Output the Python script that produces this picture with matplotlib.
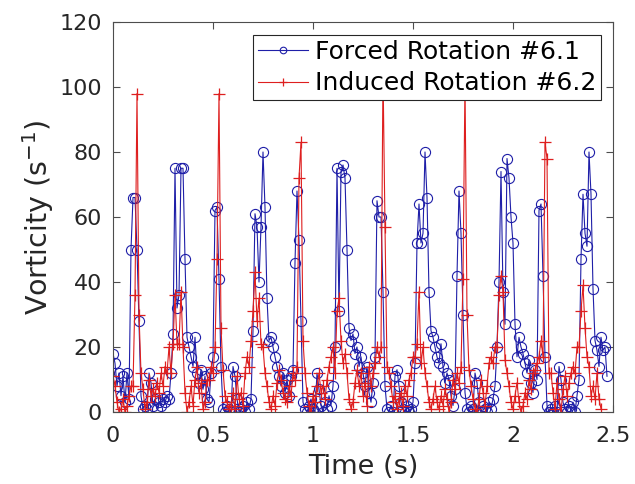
import numpy as np
import matplotlib
matplotlib.use("Agg")
import matplotlib.pyplot as plt

dt = 0.01  # sampling interval (s)

forced_61 = [
    18, 15, 8, 12, 5, 11, 3, 12, 4, 50,
    66, 66, 50, 28, 5, 1, 2, 1, 12, 9,
    2, 4, 1, 3, 2, 4, 3, 5, 4, 12,
    24, 75, 32, 36, 75, 75, 47, 23, 20, 17,
    14, 23, 12, 9, 13, 7, 11, 4, 3, 12,
    17, 62, 63, 41, 14, 1, 0, 2, 1, 0,
    14, 11, 4, 0, 1, 2, 0, 3, 1, 4,
    25, 61, 57, 40, 57, 80, 63, 35, 22, 23,
    20, 17, 14, 11, 8, 12, 6, 10, 5, 11,
    13, 46, 68, 53, 28, 3, 1, 0, 2, 4,
    1, 0, 12, 7, 2, 0, 3, 1, 5, 2,
    8, 20, 75, 31, 74, 76, 72, 50, 26, 22,
    24, 18, 20, 14, 17, 12, 8, 14, 6, 3,
    9, 17, 65, 60, 60, 37, 8, 1, 0, 2,
    0, 11, 13, 8, 3, 1, 0, 2, 0, 1,
    3, 15, 52, 64, 52, 55, 80, 66, 37, 25,
    23, 20, 17, 15, 21, 14, 9, 12, 10, 5,
    2, 7, 42, 68, 55, 30, 6, 1, 0, 2,
    1, 12, 9, 3, 0, 2, 1, 0, 3, 1,
    4, 8, 20, 40, 74, 37, 27, 78, 72, 60,
    52, 27, 17, 23, 20, 18, 15, 12, 16, 9,
    6, 13, 10, 62, 64, 42, 17, 2, 0, 1,
    0, 2, 0, 14, 10, 3, 1, 0, 2, 1,
    3, 0, 5, 10, 47, 67, 55, 51, 80, 67,
    38, 22, 19, 14, 23, 19, 20, 11,
]

induced_62 = [
    11, 8, 3, 0, 1, 4, 0, 2, 5, 8,
    8, 36, 98, 30, 12, 7, 1, 3, 10, 5,
    7, 5, 9, 6, 12, 8, 14, 12, 20, 12,
    21, 36, 21, 21, 37, 20, 6, 0, 3, 8,
    2, 10, 14, 6, 9, 1, 3, 10, 10, 14,
    12, 20, 47, 98, 26, 13, 5, 3, 1, 2,
    6, 1, 11, 4, 6, 2, 12, 17, 14, 22,
    31, 43, 28, 35, 21, 20, 12, 8, 3, 1,
    5, 2, 9, 13, 10, 6, 4, 3, 8, 5,
    12, 10, 14, 72, 83, 22, 12, 6, 2, 0,
    5, 3, 8, 12, 6, 8, 4, 10, 14, 17,
    20, 12, 31, 35, 22, 15, 18, 12, 4, 1,
    3, 9, 13, 8, 12, 5, 9, 2, 14, 8,
    12, 15, 20, 17, 20, 105, 57, 14, 12, 8,
    3, 5, 1, 4, 6, 2, 8, 5, 10, 12,
    17, 17, 21, 37, 15, 20, 12, 8, 3, 1,
    4, 8, 3, 1, 5, 2, 7, 4, 0, 3,
    10, 7, 12, 9, 14, 41, 102, 30, 13, 8,
    4, 1, 0, 4, 10, 6, 2, 8, 15, 17,
    15, 20, 20, 36, 42, 37, 16, 12, 8, 3,
    1, 5, 9, 3, 0, 2, 6, 4, 10, 7,
    12, 13, 15, 17, 22, 17, 83, 78, 12, 12,
    6, 1, 9, 4, 0, 7, 11, 5, 9, 12,
    14, 12, 20, 20, 31, 39, 26, 17, 14, 5,
    8, 4, 12, 4, 1,
]

labels = ["Forced Rotation #6.1", "Induced Rotation #6.2"]
x_ticks = [0, 0.5, 1, 1.5, 2, 2.5]
x_ticklabels = ["0", "0.5", "1", "1.5", "2", "2.5"]
y_ticks = [0, 20, 40, 60, 80, 100, 120]

t_forced = np.arange(len(forced_61)) * dt
t_induced = np.arange(len(induced_62)) * dt

plt.rcParams['font.family'] = ['DejaVu Sans']

fig = plt.figure(figsize=(6.35, 4.84), dpi=100)
ax = fig.add_axes([113/635, 72/484, 500/635, 390/484])

blue = '#1f1fa8'
red = '#de1f1f'

ax.plot(t_forced, forced_61, color=blue, lw=0.8, marker='o', markersize=7.3,
        markerfacecolor='none', markeredgecolor=blue, markeredgewidth=0.8,
        label=labels[0])
ax.plot(t_induced, induced_62, color=red, lw=0.8, marker='+', markersize=8.2,
        markeredgewidth=0.9, label=labels[1])

ax.set_xlim(0, 2.5)
ax.set_ylim(0, 120)
ax.set_xticks(x_ticks)
ax.set_xticklabels(x_ticklabels)
ax.set_yticks(y_ticks)

grey = '#262626'
for s in ax.spines.values():
    s.set_color('#4d4d4d')
    s.set_linewidth(0.8)
ax.tick_params(direction='in', length=5, width=0.8, colors='#4d4d4d',
               labelcolor=grey, labelsize=16, top=True, right=True)
ax.tick_params(axis='x', pad=10)
ax.tick_params(axis='y', pad=8)

ax.set_xlabel('Time (s)', fontsize=19.5, color=grey, labelpad=6)
ax.set_ylabel('Vorticity (s$^{-1}$)', fontsize=20.5, color=grey, labelpad=2)

leg = ax.legend(loc='upper right', bbox_to_anchor=(0.976, 0.967),
                borderaxespad=0, fontsize=18, frameon=True, fancybox=False,
                framealpha=1, edgecolor='#262626', handlelength=2.0,
                handletextpad=0.25, borderpad=0.2, labelspacing=0.3,
                markerscale=0.65)
leg.get_frame().set_linewidth(0.8)
leg.set_zorder(10)

fig.savefig('out.png', dpi=100)
